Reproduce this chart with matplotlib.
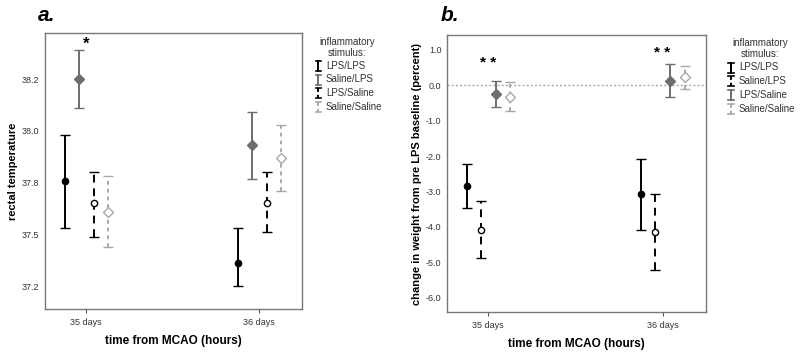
import numpy as np
import matplotlib
matplotlib.use("Agg")
import matplotlib.pyplot as plt
from matplotlib.lines import Line2D

plt.rcParams['font.family'] = ['Liberation Sans', 'DejaVu Sans']

days = ["35 days", "36 days"]

# panel a: rectal temperature (mean, lower, upper)
a_groups = ["LPS/LPS", "Saline/LPS", "LPS/Saline", "Saline/Saline"]
a_mean = [[37.76, 37.36], [38.25, 37.93], [37.65, 37.65], [37.61, 37.87]]
a_low = [[37.53, 37.25], [38.11, 37.77], [37.49, 37.51], [37.44, 37.71]]
a_high = [[37.98, 37.53], [38.39, 38.09], [37.80, 37.80], [37.78, 38.03]]
a_ticks = [37.25, 37.5, 37.75, 38.0, 38.25]
a_ticklabels = ["37.2", "37.5", "37.8", "38.0", "38.2"]

# panel b: weight change (percent)
b_groups = ["LPS/LPS", "Saline/LPS", "LPS/Saline", "Saline/Saline"]
b_mean = [[-2.84, -3.08], [-4.08, -4.15], [-0.25, 0.12], [-0.33, 0.23]]
b_low = [[-3.46, -4.09], [-4.87, -5.22], [-0.63, -0.34], [-0.73, -0.10]]
b_high = [[-2.22, -2.07], [-3.28, -3.07], [0.13, 0.59], [0.09, 0.55]]
b_ticks = [1.0, 0.0, -1.0, -2.0, -3.0, -4.0, -5.0, -6.0]

offsets = [-0.123, -0.042, 0.045, 0.127]

# styles: (color, marker, facecolor, linestyle)
sty_a = [("black", "o", "black", "-"),
         ("#6e6e6e", "D", "#6e6e6e", "-"),
         ("black", "o", "white", (0, (4, 3))),
         ("#a8a8a8", "D", "white", (0, (2, 2)))]
sty_b = [("black", "o", "black", "-"),
         ("black", "o", "white", (0, (4, 3))),
         ("#6e6e6e", "D", "#6e6e6e", "-"),
         ("#a8a8a8", "D", "white", (0, (2, 2)))]
# legend swatches, as each panel's own legend shows them
leg_a = [("black", "-"), ("#6e6e6e", "-"), ("black", (0, (2, 1.5))), ("#a8a8a8", (0, (2, 1.5)))]
leg_b = [("black", "-"), ("black", (0, (2, 1.5))), ("#6e6e6e", "-"), ("#a8a8a8", (0, (2, 1.5)))]

W, H = 800, 352
fig = plt.figure(figsize=(8, 3.52), dpi=100, facecolor="white")
ax1 = fig.add_axes([0.05625, 0.122, 0.32125, 0.784])
ax2 = fig.add_axes([0.55875, 0.1136, 0.32375, 0.787])


def draw(ax, means, lows, highs, styles):
    x = np.arange(len(days))
    for i in range(4):
        c, m, fc, ls = styles[i]
        mu = np.array(means[i])
        yerr = [mu - np.array(lows[i]), np.array(highs[i]) - mu]
        eb = ax.errorbar(x + offsets[i], mu, yerr=yerr, fmt=m, color=c, mfc=fc, mec=c,
                         ms=4.5 if m == "o" else 5, mew=1.0, elinewidth=1.4,
                         capsize=3.5, capthick=1.2, zorder=3)
        eb[2][0].set_linestyle(ls)


def legend(labels, styles, xs, xt, ytitle, ys):
    # pixel positions -> figure fraction
    fig.text(xt / W, 1 - ytitle / H, "inflammatory\nstimulus:", fontsize=7,
             color="#333333", ha="center", va="center", multialignment="center",
             linespacing=1.1)
    for lab, (c, ls), y in zip(labels, styles, ys):
        x0 = xs / W
        fig.add_artist(Line2D([x0, x0], [1 - (y - 5) / H, 1 - (y + 5) / H],
                              color=c, lw=1.4, ls=ls))
        for yc in (y - 5, y + 5):
            fig.add_artist(Line2D([x0 - 2.5 / W, x0 + 2.5 / W], [1 - yc / H] * 2,
                                  color=c, lw=1.2))
        fig.text((xs + 8) / W, 1 - y / H, lab, fontsize=7, color="#333333",
                 va="center", ha="left")


draw(ax1, a_mean, a_low, a_high, sty_a)
draw(ax2, b_mean, b_low, b_high, sty_b)

ax1.set_ylim(37.14, 38.472)
ax1.set_yticks(a_ticks)
ax1.set_yticklabels(a_ticklabels)
ax2.set_ylim(-6.40, 1.415)
ax2.set_yticks(b_ticks)
ax2.set_yticklabels(["%.1f" % v for v in b_ticks])
ax2.axhline(0, color="#aaaaaa", lw=1, ls=(0, (1.5, 1.5)), zorder=1)

for ax in (ax1, ax2):
    ax.set_xlim(-0.237, 1.249)
    ax.set_xticks(range(len(days)))
    ax.set_xticklabels(days)
    ax.tick_params(labelsize=6.5, labelcolor="#333333", length=3, color="#555555")
    ax.tick_params(axis="y", length=0, pad=4)
    for s in ax.spines.values():
        s.set_color("#777777")
        s.set_linewidth(1.0)
    ax.set_xlabel("time from MCAO (hours)", fontsize=8.5, fontweight="bold", labelpad=6)

ax1.set_ylabel("rectal temperature", fontsize=8, fontweight="bold", labelpad=3)
ax2.set_ylabel("change in weight from pre LPS baseline (percent)", fontsize=8,
               fontweight="bold", labelpad=3)

legend(a_groups, leg_a, 318, 347, 47.5, [66, 79.5, 93, 107])
legend(b_groups, leg_b, 731, 760, 48.5, [67.5, 81, 95, 109])

# significance marks
ax1.text(0, 38.42, "*", fontsize=12, fontweight="bold", ha="center", va="center")
ax2.text(0, 0.62, "* *", fontsize=11, fontweight="bold", ha="center", va="center")
ax2.text(1, 0.9, "* *", fontsize=11, fontweight="bold", ha="center", va="center")

fig.text(0.047, 0.955, "a.", fontsize=15, fontweight="bold", style="italic", va="center")
fig.text(0.551, 0.955, "b.", fontsize=15, fontweight="bold", style="italic", va="center")

plt.savefig("out.png", dpi=100)
